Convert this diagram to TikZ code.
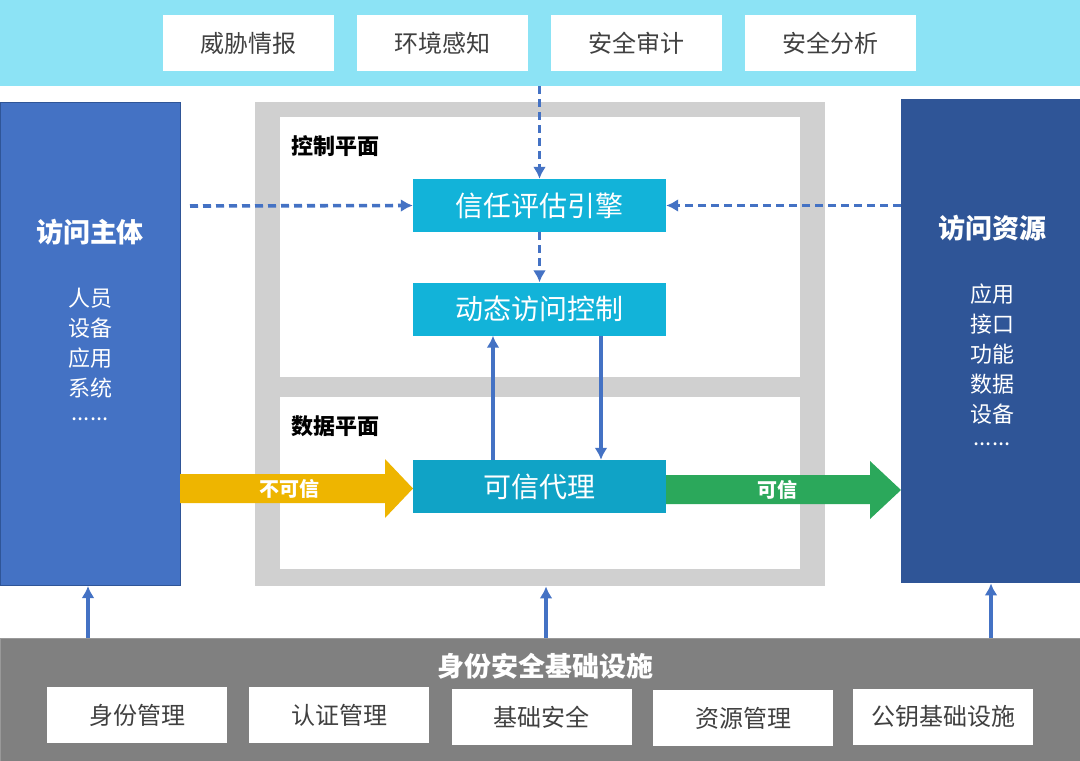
\documentclass[tikz,border=0pt]{standalone}
\usepackage{fontspec}
\setmainfont{Noto Sans CJK SC}
\usetikzlibrary{arrows.meta}
\definecolor{bandcyan}{HTML}{8CE3F5}
\definecolor{engblue}{HTML}{12B3D9}
\definecolor{proxyblue}{HTML}{10A3C6}
\definecolor{subjblue}{HTML}{4472C4}
\definecolor{resblue}{HTML}{2F5597}
\definecolor{framegray}{HTML}{D0D0D0}
\definecolor{basegray}{HTML}{808080}
\definecolor{txtgray}{HTML}{404040}
\definecolor{lineblue}{HTML}{4472C4}
\definecolor{untrusty}{HTML}{EEB500}
\definecolor{trustg}{HTML}{2BA85B}
\tikzset{
  wbox/.style={fill=white, inner sep=0pt, minimum width=171pt, minimum height=56pt, text=txtgray, font=\fontsize{24}{26}\selectfont},
  bbox/.style={wbox, minimum width=180pt},
  engbox/.style={fill=engblue, inner sep=0pt, minimum width=253pt, minimum height=53pt, text=white, font=\fontsize{28}{30}\selectfont},
  dashconn/.style={draw=lineblue, line width=3.6pt, dash pattern=on 8pt off 5pt, -{Latex[length=12pt,width=13pt]}},
  solconn/.style={draw=lineblue, line width=3.6pt, -{Latex[length=12pt,width=13pt]}},
  sidetitle/.style={text=white, font=\fontsize{27}{30}\selectfont\bfseries},
  sideitem/.style={text=white, font=\fontsize{22}{24}\selectfont},
  dotsitem/.style={text=white, inner sep=0pt, anchor=base, font=\fontsize{22}{24}\selectfont},
  planelbl/.style={text=black, font=\fontsize{22}{24}\selectfont\bfseries, anchor=west},
  arrowlbl/.style={text=white, font=\fontsize{20}{22}\selectfont\bfseries}
}
\begin{document}
\begin{tikzpicture}[x=1pt,y=-1pt]
\useasboundingbox (0,0) rectangle (1080,761);
% top band
\node[fill=bandcyan, inner sep=0pt, minimum width=1080pt, minimum height=86pt, anchor=north west] (band) at (0,0) {};
\node[wbox] (t1) at (248.5,43) {威胁情报};
\node[wbox] (t2) at (442,43) {环境感知};
\node[wbox] (t3) at (636.5,43) {安全审计};
\node[wbox] (t4) at (830.5,43) {安全分析};
% side boxes
\node[fill=subjblue, draw=resblue, line width=1pt, inner sep=0pt, minimum width=180pt, minimum height=483pt, anchor=north west] (subj) at (0,102) {};
\node[sidetitle] (subjt) at (90,232) {访问主体};
\node[sideitem] (s1) at (90,298) {人员};
\node[sideitem] (s2) at (90,328) {设备};
\node[sideitem] (s3) at (90,358) {应用};
\node[sideitem] (s4) at (90,388) {系统};
\node[dotsitem] (s5) at (90,420) {......};
\node[fill=resblue, inner sep=0pt, minimum width=179pt, minimum height=484pt, anchor=north west] (res) at (901,99) {};
\node[sidetitle] (rest) at (992,228) {访问资源};
\node[sideitem] (r1) at (992,294) {应用};
\node[sideitem] (r2) at (992,324) {接口};
\node[sideitem] (r3) at (992,354) {功能};
\node[sideitem] (r4) at (992,384) {数据};
\node[sideitem] (r5) at (992,414) {设备};
\node[dotsitem] (r6) at (992,445) {......};
% frame
\node[fill=framegray, inner sep=0pt, minimum width=570pt, minimum height=484pt, anchor=north west] (frame) at (255,102) {};
\node[fill=white, inner sep=0pt, minimum width=520pt, minimum height=260pt, anchor=north west] (ctrl) at (280,117) {};
\node[fill=white, inner sep=0pt, minimum width=520pt, minimum height=172pt, anchor=north west] (data) at (280,397) {};
\node[planelbl] (ctrll) at (288,146) {控制平面};
\node[planelbl] (datal) at (288,426) {数据平面};
% engine boxes
\node[engbox] (eng) at (539.5,205.5) {信任评估引擎};
\node[engbox] (dac) at (539.5,309) {动态访问控制};
\node[engbox, fill=proxyblue] (proxy) at (539.5,486.5) {可信代理};
% fat arrows
\fill[untrusty] (180,474) -- (385,474) -- (385,459) -- (413,488.5) -- (385,518) -- (385,503) -- (180,503) -- cycle;
\node[arrowlbl] (ul) at (289,489) {不可信};
\fill[trustg] (666,475) -- (870,475) -- (870,461) -- (901,490) -- (870,519) -- (870,504) -- (666,504) -- cycle;
\node[arrowlbl] (tl) at (777,490) {可信};
% dashed connectors
\draw[dashconn] (band.south -| eng.north) -- (eng.north);
\draw[dashconn] (eng.south) -- (dac.north);
\coordinate (subjd) at (190,206);
\draw[dashconn] (subjd) -- (eng.west);
\draw[dashconn] (res.west |- eng.east) -- (eng.east);
% solid connectors
\draw[solconn] (proxy.north -| 493,0) -- (dac.south -| 493,0);
\draw[solconn] (dac.south -| 601,0) -- (proxy.north -| 601,0);
% bottom band
\node[fill=basegray, draw=gray!80, line width=1pt, inner sep=0pt, minimum width=1080pt, minimum height=123pt, anchor=north west] (base) at (0,638) {};
\node[text=white, font=\fontsize{27}{30}\selectfont\bfseries] (baset) at (545,666) {身份安全基础设施};
\node[bbox] (b1) at (137,715) {身份管理};
\node[bbox] (b2) at (339,715) {认证管理};
\node[bbox] (b3) at (541.5,717) {基础安全};
\node[bbox] (b4) at (743,718) {资源管理};
\node[bbox] (b5) at (943,716.5) {公钥基础设施};
\draw[solconn] (base.north -| 88,0) -- (subj.south -| 88,0);
\draw[solconn] (base.north -| 546,0) -- (frame.south -| 546,0);
\draw[solconn] (base.north -| 991,0) -- (res.south -| 991,0);
\end{tikzpicture}
\end{document}
